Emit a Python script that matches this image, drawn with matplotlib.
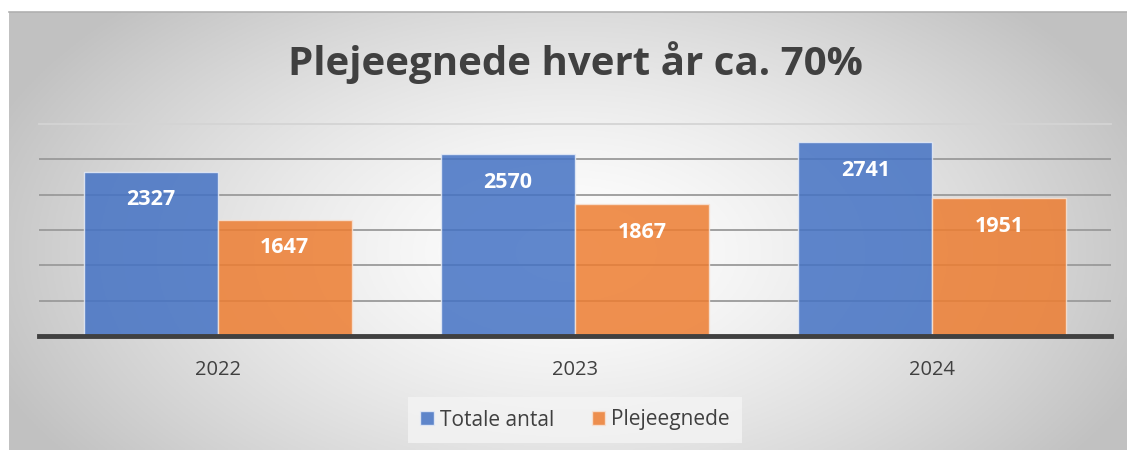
import numpy as np
import matplotlib
matplotlib.use("Agg")
import matplotlib.pyplot as plt
from matplotlib.patches import Patch

years = ["2022", "2023", "2024"]
totale = [2327, 2570, 2741]
pleje = [1647, 1867, 1951]
series_names = ["Totale antal", "Plejeegnede"]
title = "Plejeegnede hvert år ca. 70%"

W, H = 1127, 450
fig = plt.figure(figsize=(W / 100, H / 100), dpi=100)
fig.patch.set_facecolor("white")

# background gradient panel
bg = fig.add_axes([9 / W, 0, (W - 9) / W, (H - 12) / H])
bg.set_axis_off()
ny, nx = 200, 500
yy, xx = np.mgrid[0:ny, 0:nx]
cx, cy = nx * 0.5, ny * 0.45
d = np.sqrt(((xx - cx) / (nx * 0.55)) ** 2 + ((yy - cy) / (ny * 0.8)) ** 2)
d = np.clip(d, 0, 1)
v = 1.0 - 0.24 * d ** 1.4
img = np.dstack([v, v, v])
bg.imshow(img, extent=[0, 1, 0, 1], aspect="auto", origin="lower")
bg.set_xlim(0, 1)
bg.set_ylim(0, 1)
bg.plot([0, 1], [1, 1], color="#b0b0b0", lw=1.2, transform=bg.transAxes, clip_on=False)

font = "Open Sans"
ax = fig.add_axes([39 / W, (H - 336) / H, (1111 - 39) / W, (336 - 124) / H])
ax.patch.set_alpha(0)
x = np.arange(len(years))
bw = 0.375
b1 = ax.bar(x - bw / 2, totale, bw, color="#4472C4", alpha=0.85,
            edgecolor="#e6ecf7", linewidth=1.0, zorder=3)
b2 = ax.bar(x + bw / 2, pleje, bw, color="#ED7D31", alpha=0.85,
            edgecolor="#f7e3d6", linewidth=1.0, zorder=3)
for bars, vals in ((b1, totale), (b2, pleje)):
    for r, val in zip(bars, vals):
        ax.annotate(str(val), (r.get_x() + r.get_width() / 2, val),
                    xytext=(0, -28), textcoords="offset pixels",
                    ha="center", va="center", color="white",
                    fontsize=15.5, fontweight="bold", family=font, zorder=5)

ax.set_xlim(-0.5, 2.5)
ax.set_ylim(0, 3000)
for gv in [500, 1000, 1500, 2000, 2500]:
    ax.axhline(gv, color="#9a9a9a", lw=1.3, zorder=1)
ax.axhline(3000, color="#d4d4d4", lw=1.3, zorder=1, clip_on=False)
for s in ["top", "right", "left"]:
    ax.spines[s].set_visible(False)
ax.spines["bottom"].set_color("#404040")
ax.spines["bottom"].set_linewidth(3.5)
ax.spines["bottom"].set_zorder(6)
ax.set_yticks([])
ax.set_xticks(x)
ax.set_xticklabels(years, fontsize=14.5, color="#404040", family=font)
ax.tick_params(axis="x", length=0, pad=17)

fig.text(575 / W, 1 - 63 / H, title, ha="center", va="center",
         fontsize=29, fontweight="bold", color="#404040", family=font)

handles = [Patch(facecolor="#4472C4", alpha=0.85, edgecolor="#e6ecf7"),
           Patch(facecolor="#ED7D31", alpha=0.85, edgecolor="#f7e3d6")]
leg = fig.legend(handles, series_names, loc="center", bbox_to_anchor=(575 / W, 1 - 420 / H),
                 ncol=2, frameon=True, handlelength=0.65, handleheight=0.65,
                 handletextpad=0.3, columnspacing=1.8, borderpad=0.6,
                 prop={"family": font, "size": 15})
leg.get_frame().set_facecolor("#f4f4f4")
leg.get_frame().set_edgecolor("none")
leg.get_frame().set_boxstyle("square", pad=0)
for t in leg.get_texts():
    t.set_color("#404040")

fig.savefig("out.png", dpi=100)
